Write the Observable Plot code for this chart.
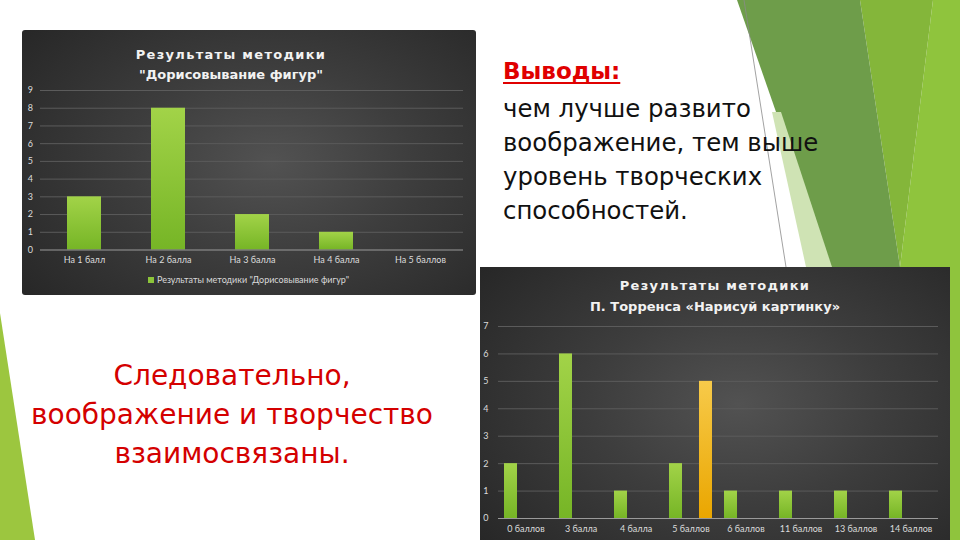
<!DOCTYPE html>
<html>
<head>
<meta charset="utf-8">
<script src="https://cdn.jsdelivr.net/npm/d3@7"></script>
<script src="https://cdn.jsdelivr.net/npm/@observablehq/plot@0.6"></script>
<style>
  html, body { margin: 0; padding: 0; }
  body { width: 960px; height: 540px; overflow: hidden; background: #ffffff; position: relative; font-family: "DejaVu Sans", sans-serif; }
  #deco { position: absolute; left: 0; top: 0; }
  .panel { position: absolute; overflow: hidden;
    background: radial-gradient(ellipse 70% 80% at 55% 50%, #525252 0%, #3d3d3d 45%, #272727 100%); }
  .panel svg { position: absolute; left: 0; top: 0; }
  .ctitle { position: absolute; left: 0; color: #f2f2f2; font-family: "DejaVu Sans", sans-serif; font-weight: bold; font-size: 13px; line-height: 20px; text-align: center; white-space: nowrap; }
  .ctitle .l1 { letter-spacing: 1.3px; }
  .legend { position: absolute; font-family: Lato, sans-serif; font-size: 9px; color: #d9d9d9; white-space: nowrap; line-height: 10px; }
  .legend i { display: inline-block; width: 6px; height: 6px; background: #8cc43a; margin-right: 3px; vertical-align: 0px; }
  .txt { position: absolute; white-space: nowrap; font-family: "DejaVu Sans", sans-serif; }
</style>
</head>
<body>
<svg id="deco" width="960" height="540">
  <polygon points="0,313 35,540 0,540" fill="#9cc63f"/>
  <polygon points="933,0 960,0 960,540 880,540 900,267" fill="#8fc43d"/>
  <polygon points="860,0 933,0 900,267" fill="#84b63a"/>
  <polygon points="737,0 860,0 900,267 830,267" fill="#6e9d4a"/>
  <polygon points="772,112 781,112 832,267 806,267" fill="#cfe3b4"/>
  <line x1="744" y1="0" x2="786" y2="267" stroke="#8a8a8a" stroke-width="0.8"/>
</svg>

<div class="txt" style="left:503px; top:58px; font-size:23px; line-height:27px; font-weight:bold; color:#e00000; text-decoration:underline; text-decoration-thickness:2px; text-underline-offset:3px;">Выводы:</div>
<div class="txt" style="left:503px; top:91.5px; font-size:24.4px; line-height:34px; color:#111;">чем лучше развито<br>воображение, тем выше<br>уровень творческих<br>способностей.</div>
<div class="txt" style="left:0px; width:464px; text-align:center; top:356px; font-size:28px; line-height:39px; color:#d40000;">Следовательно,<br>воображение и творчество<br>взаимосвязаны.</div>

<div id="p1" class="panel" style="left:22px; top:30px; width:454px; height:265px; border-radius:3px;">
  <div class="ctitle" style="width:418px; top:15px;"><span class="l1">Результаты методики</span><br>"Дорисовывание фигур"</div>
  <div class="legend" style="left:126px; top:245px;"><i></i>Результаты методики "Дорисовывание фигур"</div>
</div>
<div id="p2" class="panel" style="left:480px; top:267px; width:470px; height:275px;">
  <div class="ctitle" style="width:470px; top:9px; line-height:20.5px;"><span class="l1">Результаты методики</span><br>П. Торренса «Нарисуй картинку»</div>
</div>

<script>
// ---- Data: chart 1 "Дорисовывание фигур"
const cats1 = ["На 1 балл", "На 2 балла", "На 3 балла", "На 4 балла", "На 5 баллов"];
const vals1 = [3, 8, 2, 1, 0];
const yTicks1 = [0, 1, 2, 3, 4, 5, 6, 7, 8, 9];

// ---- Data: chart 2 "П. Торренса «Нарисуй картинку»"
const cats2 = ["0 баллов", "3 балла", "4 балла", "5 баллов", "6 баллов", "11 баллов", "13 баллов", "14 баллов"];
const series2 = ["Ряд 1", "Ряд 2"];
const valsGreen2 = [2, 6, 1, 2, 1, 1, 1, 1];
const valsOrange2 = [null, null, null, 5, null, null, null, null];
const yTicks2 = [0, 1, 2, 3, 4, 5, 6, 7];

const rows1 = cats1.map((c, i) => ({cat: c, value: vals1[i]}));
const rowsG2 = cats2.map((c, i) => ({cat: c, series: series2[0], value: valsGreen2[i]})).filter(d => d.value != null);
const rowsO2 = cats2.map((c, i) => ({cat: c, series: series2[1], value: valsOrange2[i]})).filter(d => d.value != null);

const ns = "http://www.w3.org/2000/svg";
function addDefs(svg, html) {
  const defs = document.createElementNS(ns, "defs");
  defs.innerHTML = html;
  svg.insertBefore(defs, svg.firstChild);
}
const gridColor = "#5b5b5b";
const baseColor = "#9a9a9a";
const axisStyle = {background: "transparent", color: "#dcdcdc", fontFamily: "Lato, sans-serif", fontSize: "9px", overflow: "visible"};

const plot1 = Plot.plot({
  width: 454, height: 265,
  marginTop: 60, marginBottom: 45.5, marginLeft: 18, marginRight: 13,
  style: axisStyle,
  x: {domain: cats1, paddingInner: 0.6, paddingOuter: 0.3, label: null},
  y: {domain: [0, 9], label: null},
  marks: [
    Plot.ruleY(yTicks1.filter(d => d > 0), {stroke: gridColor, strokeWidth: 1}),
    Plot.barY(rows1, {x: "cat", y: "value", fill: "url(#gGreen1)"}),
    Plot.ruleY([0], {stroke: baseColor, strokeWidth: 1}),
    Plot.axisX({tickSize: 0, tickPadding: 7, label: null}),
    Plot.axisY({ticks: yTicks1, tickSize: 0, tickPadding: 7.5, label: null, tickFormat: d => String(d)})
  ]
});
addDefs(plot1, '<linearGradient id="gGreen1" x1="0" y1="0" x2="0" y2="1"><stop offset="0" stop-color="#a2d348"/><stop offset="1" stop-color="#76b526"/></linearGradient>');
document.getElementById("p1").insertBefore(plot1, document.getElementById("p1").firstChild);

const plot2 = Plot.plot({
  width: 470, height: 275,
  marginTop: 59, marginBottom: 24, marginLeft: 17, marginRight: 11,
  style: axisStyle,
  fx: {domain: cats2, padding: 0, label: null},
  x: {domain: series2, paddingInner: 0.57, paddingOuter: 0.2, axis: null},
  y: {domain: [0, 7], label: null},
  marks: [
    Plot.ruleY(yTicks2.filter(d => d > 0), {stroke: gridColor, strokeWidth: 1}),
    Plot.barY(rowsG2, {fx: "cat", x: "series", y: "value", fill: "url(#gGreen2)"}),
    Plot.barY(rowsO2, {fx: "cat", x: "series", y: "value", fill: "url(#gOrange2)"}),
    Plot.ruleY([0], {stroke: baseColor, strokeWidth: 1}),
    Plot.axisFx({anchor: "bottom", tickSize: 0, tickPadding: 7, label: null}),
    Plot.axisY({ticks: yTicks2, tickSize: 0, tickPadding: 10, label: null, tickFormat: d => String(d)})
  ]
});
addDefs(plot2, '<linearGradient id="gGreen2" x1="0" y1="0" x2="0" y2="1"><stop offset="0" stop-color="#a2d348"/><stop offset="1" stop-color="#76b526"/></linearGradient>' +
  '<linearGradient id="gOrange2" x1="0" y1="0" x2="0" y2="1"><stop offset="0" stop-color="#f7ca4a"/><stop offset="1" stop-color="#eaa600"/></linearGradient>');
document.getElementById("p2").insertBefore(plot2, document.getElementById("p2").firstChild);
</script>
</body>
</html>
